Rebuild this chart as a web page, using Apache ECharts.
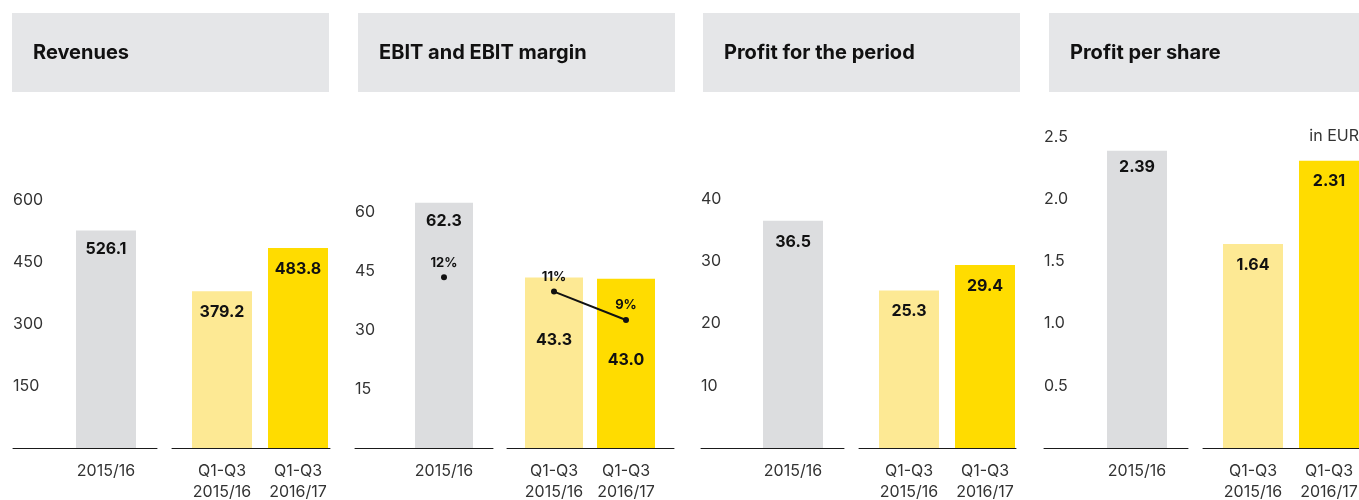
<!DOCTYPE html>
<html>
<head>
<meta charset="utf-8">
<script src="https://cdn.jsdelivr.net/npm/echarts@6/dist/echarts.min.js"></script>
<style>
html, body { margin: 0; padding: 0; background: #fff; }
#main { width: 1359px; height: 500px; }
</style>
</head>
<body>
<div id="main"></div>
<script>
// data
var titles = ['Revenues', 'EBIT and EBIT margin', 'Profit for the period', 'Profit per share'];
var yearCat = ['2015/16'];
var quarterCats = ['Q1-Q3\n2015/16', 'Q1-Q3\n2016/17'];
var revenues = [526.1, 379.2, 483.8];
var ebit = [62.3, 43.3, 43.0];
var ebitMargin = [12, 11, 9];
var profit = [36.5, 25.3, 29.4];
var profitPerShare = [2.39, 1.64, 2.31];
var revenueTicks = [150, 300, 450, 600];
var ebitTicks = [15, 30, 45, 60];
var profitTicks = [10, 20, 30, 40];
var shareTicks = [0.5, 1.0, 1.5, 2.0, 2.5];
var unitNote = 'in EUR';

var FONT = 'Inter, "Liberation Sans", Arial, sans-serif';
var colors = ['#dcdddf', '#fde994', '#ffdc00'];
var BOTTOM = 52;

// layout of the four panels (pixels)
var panels = [
    {values: revenues, ticks: revenueTicks, box: 12, lineL: [13, 157], lineR: [172, 330], centers: [106, 222, 298], barW: 60, top: 200, max: 600, dec: 1, tickDec: 0, labelDist: [11, 13, 13]},
    {values: ebit, ticks: ebitTicks, box: 358, lineL: [355, 493], lineR: [507, 674], centers: [444, 554, 626], barW: 58, top: 192, max: 65, dec: 1, tickDec: 0, labelDist: [11, 55, 74], margin: ebitMargin},
    {values: profit, ticks: profitTicks, box: 703, lineL: [701, 844], lineR: [859, 1016], centers: [793, 909, 985], barW: 60, top: 199, max: 40, dec: 1, tickDec: 0, labelDist: [13, 13, 13]},
    {values: profitPerShare, ticks: shareTicks, box: 1049, lineL: [1044, 1188], lineR: [1203, 1359], centers: [1137, 1253, 1329], barW: 60, top: 137, max: 2.5, dec: 2, tickDec: 1, labelDist: [9, 13, 13]}
];

var grid = [], xAxis = [], yAxis = [], series = [], graphic = [];

function valueLabel(p, k) {
    return {
        show: true,
        position: 'insideTop',
        distance: p.labelDist[k],
        color: '#111',
        fontFamily: FONT,
        fontWeight: 'bold',
        fontSize: 16,
        formatter: function (o) { return Number(o.value).toFixed(p.dec); }
    };
}

function addGrid(left, width, top) {
    grid.push({left: left, width: width, top: top, bottom: BOTTOM, outerBoundsMode: 'none', containLabel: false});
}

panels.forEach(function (p, i) {
    var g0 = grid.length;
    var y0 = yAxis.length;
    var d = p.centers[2] - p.centers[1];
    var mid = (p.centers[1] + p.centers[2]) / 2;
    // 0: left baseline + y labels, 1: year bar, 2: right baseline, 3: quarter bars
    addGrid(p.lineL[0], p.lineL[1] - p.lineL[0], p.top);
    addGrid(p.centers[0] - 50, 100, p.top);
    addGrid(p.lineR[0], p.lineR[1] - p.lineR[0], p.top);
    addGrid(mid - d, 2 * d, p.top);

    for (var j = 0; j < 4; j++) {
        var withLine = (j === 0 || j === 2);
        xAxis.push({
            type: 'category',
            gridIndex: g0 + j,
            data: j === 1 ? yearCat : (j === 3 ? quarterCats : ['']),
            axisLine: {show: withLine, lineStyle: {color: '#1a1a1a', width: 1}},
            axisTick: {show: false},
            axisLabel: {
                show: !withLine,
                interval: 0,
                hideOverlap: false,
                margin: 13,
                color: '#333',
                fontFamily: FONT,
                fontSize: 16,
                lineHeight: 21
            }
        });
        yAxis.push({
            type: 'value',
            gridIndex: g0 + j,
            min: 0,
            max: p.max,
            interval: p.ticks[1] - p.ticks[0],
            show: j === 0,
            splitLine: {show: false},
            axisLine: {show: false},
            axisTick: {show: false},
            axisLabel: {
                inside: true,
                margin: 0,
                color: '#333',
                fontFamily: FONT,
                fontSize: 16,
                formatter: function (v) {
                    var hit = p.ticks.some(function (t) { return Math.abs(t - v) < 1e-9; });
                    return hit ? v.toFixed(p.tickDec) : '';
                }
            }
        });
    }

    series.push({
        type: 'bar',
        xAxisIndex: g0 + 1,
        yAxisIndex: y0 + 1,
        barWidth: p.barW,
        itemStyle: {color: colors[0]},
        label: valueLabel(p, 0),
        data: [p.values[0]]
    });
    series.push({
        type: 'bar',
        xAxisIndex: g0 + 3,
        yAxisIndex: y0 + 3,
        barWidth: p.barW,
        data: [
            {value: p.values[1], itemStyle: {color: colors[1]}, label: valueLabel(p, 1)},
            {value: p.values[2], itemStyle: {color: colors[2]}, label: valueLabel(p, 2)}
        ]
    });

    if (p.margin) {
        // hidden percent axes for the EBIT margin
        var ya = yAxis.length;
        yAxis.push({type: 'value', gridIndex: g0 + 1, min: 0, max: 18, show: false});
        yAxis.push({type: 'value', gridIndex: g0 + 3, min: 0, max: 18, show: false});
        var mLabel = {
            show: true,
            position: 'top',
            color: '#111',
            fontFamily: FONT,
            fontWeight: 'bold',
            fontSize: 13,
            formatter: '{c}%'
        };
        series.push({
            type: 'line',
            xAxisIndex: g0 + 1,
            yAxisIndex: ya,
            symbol: 'circle',
            symbolSize: 6,
            itemStyle: {color: '#111'},
            label: mLabel,
            data: [p.margin[0]],
            z: 5
        });
        series.push({
            type: 'line',
            xAxisIndex: g0 + 3,
            yAxisIndex: ya + 1,
            symbol: 'circle',
            symbolSize: 6,
            itemStyle: {color: '#111'},
            lineStyle: {color: '#111', width: 2},
            label: mLabel,
            data: p.margin.slice(1),
            z: 5
        });
    }

    graphic.push({
        type: 'group',
        left: p.box,
        top: 13,
        children: [
            {type: 'rect', shape: {x: 0, y: 0, width: 317, height: 79}, style: {fill: '#e5e6e8'}},
            {type: 'text', x: 21, y: 40, style: {text: titles[i], fill: '#111', font: 'bold 20px ' + FONT, verticalAlign: 'middle'}}
        ]
    });
});

var dom = echarts.init(document.getElementById('main'));
dom.setOption({
    backgroundColor: '#fff',
    animation: false,
    title: {
        text: unitNote,
        right: 0,
        top: 128,
        padding: 0,
        textStyle: {color: '#333', fontFamily: FONT, fontSize: 16, fontWeight: 'normal'}
    },
    graphic: graphic,
    grid: grid,
    xAxis: xAxis,
    yAxis: yAxis,
    series: series
});
</script>
</body>
</html>
